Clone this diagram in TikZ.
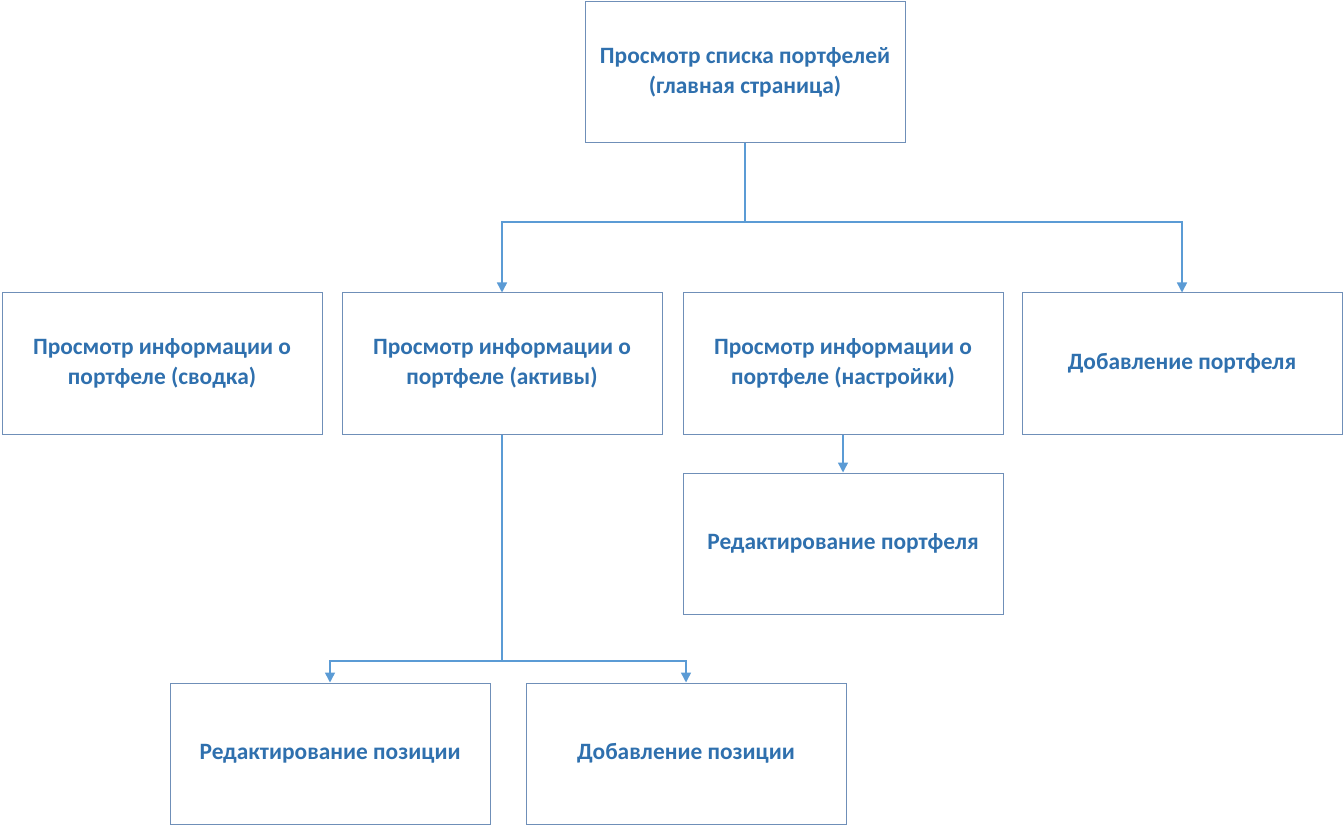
\documentclass[tikz,border=0pt]{standalone}
\usepackage{fontspec}
\setmainfont{Carlito}
\usetikzlibrary{arrows.meta}
\definecolor{boxline}{HTML}{6F8FB8}
\definecolor{txt}{HTML}{2F70AE}
\definecolor{conn}{HTML}{5B9BD5}
\tikzset{
  pbox/.style={draw=boxline, line width=1pt, minimum width=320pt, minimum height=141pt,
    inner sep=0pt, align=center, text=txt, font=\fontsize{23.4}{30}\selectfont\bfseries},
  link/.style={draw=conn, line width=1.5pt},
  arr/.style={link, -{Triangle[width=10pt,length=10pt]}}
}
\begin{document}
\begin{tikzpicture}[x=1pt,y=-1pt]
\useasboundingbox (0,0) rectangle (1344,826);
\node[pbox] (top) at (745,72.5) {Просмотр списка портфелей\\(главная страница)};
\node[pbox] (a) at (162,363.5) {Просмотр информации о\\портфеле (сводка)};
\node[pbox] (b) at (502,363.5) {Просмотр информации о\\портфеле (активы)};
\node[pbox] (c) at (843,363.5) {Просмотр информации о\\портфеле (настройки)};
\node[pbox] (d) at (1182,363.5) {Добавление портфеля};
\node[pbox] (e) at (843,543.5) {Редактирование портфеля};
\node[pbox] (f) at (330,753.5) {Редактирование позиции};
\node[pbox] (g) at (686,753.5) {Добавление позиции};
\coordinate (j1) at (745,222);
\coordinate (j2) at (502,661);
\draw[link] (top.south) -- (j1);
\draw[arr] (j1) -| (b.north);
\draw[arr] (j1) -| (d.north);
\draw[link] (b.south) -- (j2);
\draw[arr] (j2) -| (f.north);
\draw[arr] (j2) -| (g.north);
\draw[arr] (c.south) -- (e.north);
\end{tikzpicture}
\end{document}
